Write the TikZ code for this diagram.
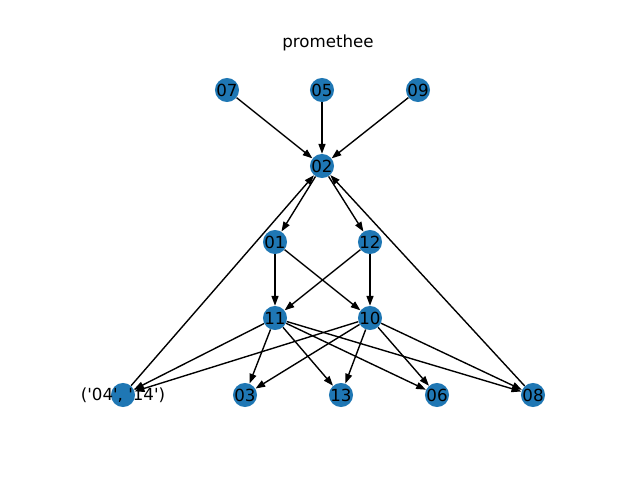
\documentclass[tikz,border=0pt]{standalone}
\usepackage{fontspec}
\setmainfont{DejaVu Sans}
\usetikzlibrary{arrows.meta}
\definecolor{nodeblue}{HTML}{1F77B4}
\begin{document}
\begin{tikzpicture}[x=0.72pt,y=-0.72pt,
  vert/.style={circle,fill=nodeblue,draw=none,minimum size=17.3pt,inner sep=0pt},
  lab/.style={font=\fontsize{12pt}{14pt}\selectfont,text=black,inner sep=0pt},
  edge/.style={draw=black,line width=1pt,-{Triangle[length=7pt,width=5pt]}}]
\useasboundingbox (0,0) rectangle (640,480);
\node[lab] (title) at (328,43) {promethee};
\node[vert] (n07) at (227,90) {};
\node[vert] (n05) at (322,90) {};
\node[vert] (n09) at (418,90) {};
\node[vert] (n02) at (322,166) {};
\node[vert] (n01) at (275,242) {};
\node[vert] (n12) at (370,242) {};
\node[vert] (n11) at (275,318) {};
\node[vert] (n10) at (370,318) {};
\node[vert] (n04) at (123,395) {};
\node[vert] (n03) at (245,395) {};
\node[vert] (n13) at (341,395) {};
\node[vert] (n06) at (437,395) {};
\node[vert] (n08) at (533,395) {};
\foreach \a/\b in {n07/n02,n05/n02,n09/n02,n02/n01,n02/n12,n01/n11,n01/n10,n12/n11,n12/n10,
  n11/n04,n11/n03,n11/n13,n11/n06,n11/n08,n10/n04,n10/n03,n10/n13,n10/n06,n10/n08,n04/n02,n08/n02}
  \draw[edge] (\a) -- (\b);
\node[lab] (l07) at (n07) {07};
\node[lab] (l05) at (n05) {05};
\node[lab] (l09) at (n09) {09};
\node[lab] (l02) at (n02) {02};
\node[lab] (l01) at (n01) {01};
\node[lab] (l12) at (n12) {12};
\node[lab] (l11) at (n11) {11};
\node[lab] (l10) at (n10) {10};
\node[lab] (l04) at (n04) {(\textquotesingle04\textquotesingle, \textquotesingle14\textquotesingle)};
\node[lab] (l03) at (n03) {03};
\node[lab] (l13) at (n13) {13};
\node[lab] (l06) at (n06) {06};
\node[lab] (l08) at (n08) {08};
\end{tikzpicture}
\end{document}
